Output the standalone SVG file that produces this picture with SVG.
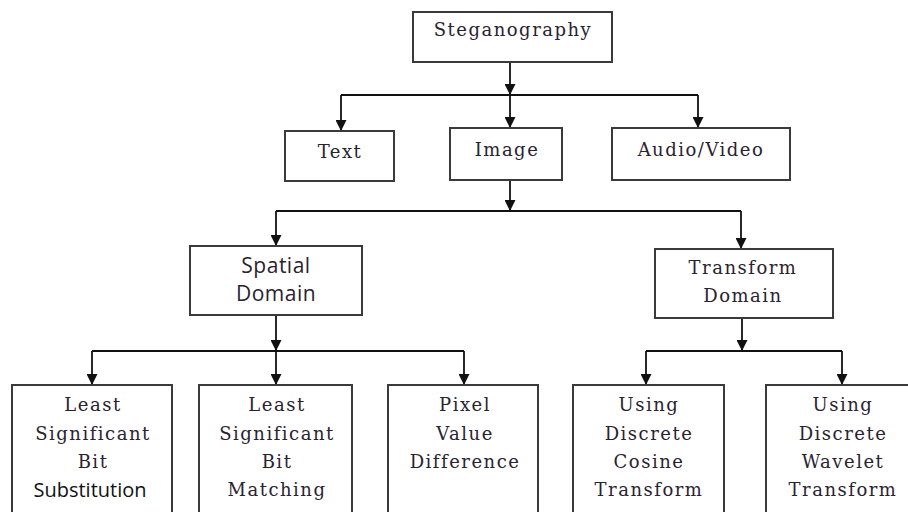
<svg xmlns="http://www.w3.org/2000/svg" width="908" height="512" viewBox="0 0 908 512">
<style>
.box{fill:#fff;stroke:#3a3a3a;stroke-width:2}
.t{font-family:"DejaVu Serif","Liberation Serif",serif;font-size:18px;letter-spacing:1.5px;fill:#2a2230;text-anchor:middle}
.s{font-family:"Open Sans","Liberation Sans",sans-serif;font-size:20px;fill:#111;text-anchor:middle}
.sp{font-family:"Open Sans","Liberation Sans",sans-serif;font-size:21px;letter-spacing:0.5px;fill:#2a2230;text-anchor:middle}
.c{fill:none;stroke:#111;stroke-width:1.8}
</style>
<defs>
<marker id="ah" viewBox="0 0 11 11" refX="11" refY="5.5" markerWidth="11" markerHeight="11" markerUnits="userSpaceOnUse" orient="auto">
<path d="M0,0 L11,5.5 L0,11 Z" fill="#111"/>
</marker>
</defs>
<rect width="908" height="512" fill="#fff"/>
<g id="connectors">
<path class="c" d="M510,62 V95" marker-end="url(#ah)"/>
<path class="c" d="M341,95 H698"/>
<path class="c" d="M510,95 V128" marker-end="url(#ah)"/>
<path class="c" d="M341,95 V131" marker-end="url(#ah)"/>
<path class="c" d="M698,95 V128" marker-end="url(#ah)"/>
<path class="c" d="M510,180 V211" marker-end="url(#ah)"/>
<path class="c" d="M276,211 H741"/>
<path class="c" d="M276,211 V246" marker-end="url(#ah)"/>
<path class="c" d="M741,211 V249" marker-end="url(#ah)"/>
<path class="c" d="M276,315 V351" marker-end="url(#ah)"/>
<path class="c" d="M92,351 H464"/>
<path class="c" d="M92,351 V385" marker-end="url(#ah)"/>
<path class="c" d="M276,351 V385" marker-end="url(#ah)"/>
<path class="c" d="M464,351 V385" marker-end="url(#ah)"/>
<path class="c" d="M742,318 V351" marker-end="url(#ah)"/>
<path class="c" d="M646,351 H842"/>
<path class="c" d="M646,351 V385" marker-end="url(#ah)"/>
<path class="c" d="M842,351 V385" marker-end="url(#ah)"/>
</g>
<g id="steganography">
<rect class="box" x="413" y="12" width="199" height="50"/>
<text class="t" x="513" y="36">Steganography</text>
</g>
<g id="text">
<rect class="box" x="285" y="131" width="109" height="50"/>
<text class="t" x="340" y="158">Text</text>
</g>
<g id="image">
<rect class="box" x="450" y="128" width="112" height="52"/>
<text class="t" x="507" y="156">Image</text>
</g>
<g id="audio-video">
<rect class="box" x="612" y="128" width="178" height="52"/>
<text class="t" x="701" y="156">Audio/Video</text>
</g>
<g id="spatial">
<rect class="box" x="190" y="246" width="172" height="69"/>
<text class="sp" x="276" y="273">Spatial</text>
<text class="sp" x="276" y="301">Domain</text>
</g>
<g id="transform">
<rect class="box" x="655" y="249" width="178" height="69"/>
<text class="t" x="743" y="274">Transform</text>
<text class="t" x="743" y="302">Domain</text>
</g>
<g id="lsb-sub">
<rect class="box" x="12" y="385" width="160" height="140"/>
<text class="t" x="93" y="411">Least</text>
<text class="t" x="93" y="440">Significant</text>
<text class="t" x="93" y="468">Bit</text>
<text class="s" x="90" y="497">Substitution</text>
</g>
<g id="lsb-match">
<rect class="box" x="199" y="385" width="153" height="140"/>
<text class="t" x="277" y="411">Least</text>
<text class="t" x="277" y="440">Significant</text>
<text class="t" x="277" y="468">Bit</text>
<text class="t" x="277" y="496">Matching</text>
</g>
<g id="pvd">
<rect class="box" x="388" y="385" width="150" height="140"/>
<text class="t" x="465" y="411">Pixel</text>
<text class="t" x="465" y="440">Value</text>
<text class="t" x="465" y="468">Difference</text>
</g>
<g id="dct">
<rect class="box" x="573" y="385" width="151" height="140"/>
<text class="t" x="649" y="411">Using</text>
<text class="t" x="649" y="440">Discrete</text>
<text class="t" x="649" y="468">Cosine</text>
<text class="t" x="649" y="496">Transform</text>
</g>
<g id="dwt">
<rect class="box" x="766" y="385" width="152" height="140"/>
<text class="t" x="843" y="411">Using</text>
<text class="t" x="843" y="440">Discrete</text>
<text class="t" x="843" y="468">Wavelet</text>
<text class="t" x="843" y="496">Transform</text>
</g>
</svg>
